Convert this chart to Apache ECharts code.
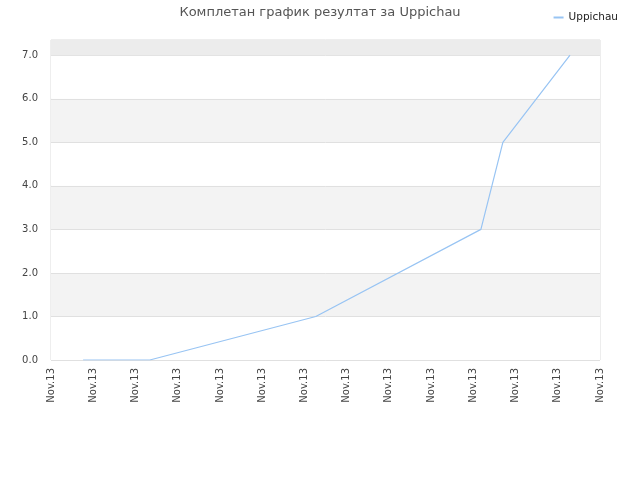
<!DOCTYPE html>
<html><head><meta charset="utf-8">
<script src="https://cdn.jsdelivr.net/npm/echarts@6/dist/echarts.min.js"></script>
<style>html,body{margin:0;padding:0;background:#fff}#c{width:640px;height:480px}</style>
</head><body><div id="c"></div>
<script>
var titleText = 'Комплетан график резултат за Uppichau';
var seriesName = 'Uppichau';
var tickLabels = ['Nov.13','Nov.13','Nov.13','Nov.13','Nov.13','Nov.13','Nov.13','Nov.13','Nov.13','Nov.13','Nov.13','Nov.13','Nov.13','Nov.13'];
var xPositions = [0.76, 2.34, 6.27, 10.18, 10.70, 12.29];
var yValues = [0, 0, 1, 3, 5, 7];

var data = xPositions.map(function(x, i){ return [x, yValues[i]]; });
var yMax = 7.35;
var chart = echarts.init(document.getElementById('c'));
chart.setOption({
  animation: false,
  title: { text: titleText, left: 'center', top: 1,
    textStyle: { fontFamily: 'DejaVu Sans', fontSize: 13, fontWeight: 'normal', color: '#555' } },
  legend: { data: [seriesName], right: 17, top: 7, itemWidth: 10, itemHeight: 2, itemGap: 10,
    icon: 'rect',
    textStyle: { fontFamily: 'DejaVu Sans', fontSize: 10.5, color: '#222' } },
  grid: { left: 51, right: 40, top: 40, bottom: 120, show: true, borderColor: '#dcdcdc', borderWidth: 1 },
  xAxis: { type: 'value', min: 0, max: tickLabels.length - 1, interval: 1,
    axisLine: { show: false }, axisTick: { show: false }, splitLine: { show: false },
    axisLabel: { rotate: 90, color: '#444', fontFamily: 'DejaVu Sans', fontSize: 10, margin: 8,
      formatter: function(v){ return tickLabels[Math.round(v)] || ''; } } },
  yAxis: { type: 'value', min: 0, max: yMax, interval: 1,
    axisLine: { show: false }, axisTick: { show: false },
    splitLine: { lineStyle: { color: '#e0e0e0' } },
    splitArea: { show: true, areaStyle: { color: ['#ffffff', '#f3f3f3'] } },
    axisLabel: { color: '#444', fontFamily: 'DejaVu Sans', fontSize: 10, margin: 13,
      formatter: function(v){ return Math.abs(v - Math.round(v)) < 1e-6 ? v.toFixed(1) : ''; } } },
  series: [{ name: seriesName, type: 'line', data: data, symbol: 'none',
    lineStyle: { color: '#98c4f3', width: 1.2 }, itemStyle: { color: '#98c4f3' },
    markArea: { silent: true, itemStyle: { color: '#ececec' },
      data: [[{ yAxis: 7 }, { yAxis: yMax }]] } }]
});
</script></body></html>
